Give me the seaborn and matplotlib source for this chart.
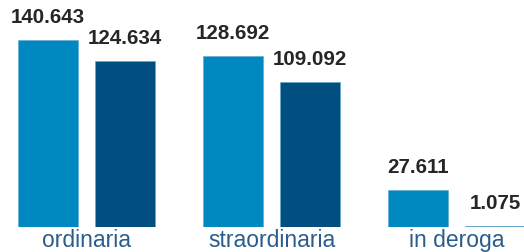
import pandas as pd
import seaborn as sns
import matplotlib.pyplot as plt

categories = ['ordinaria', 'straordinaria', 'in deroga']
series = ['serie 1', 'serie 2']
values_1 = [140643, 128692, 27611]
values_2 = [124634, 109092, 1075]
colors = ['#0088c1', '#004f80']

df = pd.DataFrame({
    'categoria': categories * 2,
    'serie': [series[0]] * 3 + [series[1]] * 3,
    'valore': values_1 + values_2,
})

sns.set_style('white')
plt.rcParams['font.family'] = ['Liberation Sans', 'DejaVu Sans']

fig = plt.figure(figsize=(5.24, 2.53), dpi=100)
ax = fig.add_axes([0, 25 / 253, 1, 228 / 253])

sns.barplot(data=df, x='categoria', y='valore', hue='serie', order=categories,
            hue_order=series, palette=colors, saturation=1, width=0.832, gap=0.22,
            edgecolor='#5aa6cf', linewidth=0.4, legend=False, ax=ax)

for cont in ax.containers:
    labels = [f'{v:,.0f}'.replace(',', '.') for v in cont.datavalues]
    ax.bar_label(cont, labels=labels, padding=10, fontsize=14.8,
                 fontweight='bold', color='#262626')

ax.set_xlim(-0.4676, 2.365)
ax.set_ylim(0, 171400)
ax.set_xlabel('')
ax.set_ylabel('')
ax.set_yticks([])
ax.tick_params(axis='x', length=0, pad=1, labelsize=16.5, labelcolor='#2b5d8c')
sns.despine(ax=ax, left=True, bottom=True)

fig.savefig('out.png', dpi=100)
